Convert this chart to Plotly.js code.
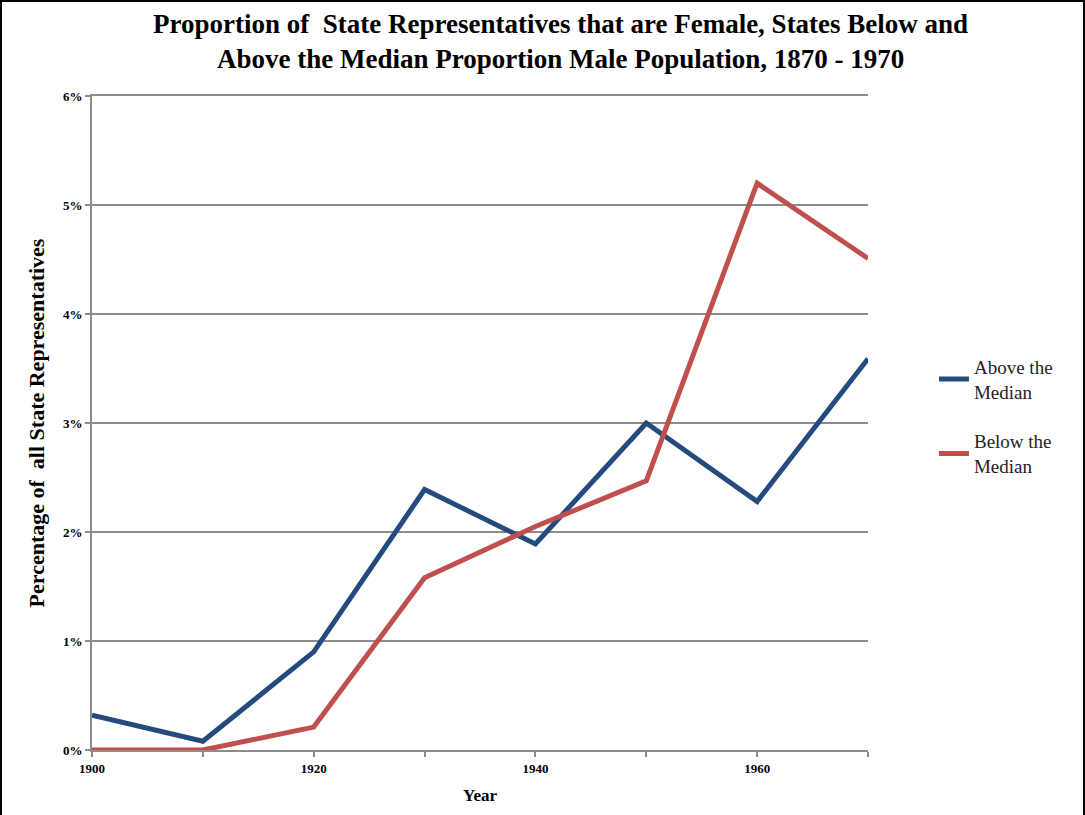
<!DOCTYPE html>
<html>
<head>
<meta charset="utf-8">
<script src="https://cdn.plot.ly/plotly-3.0.1.min.js"></script>
<style>
html,body{margin:0;padding:0;background:#fff;}
#wrap{position:relative;width:1085px;height:815px;}
#chart{width:1085px;height:815px;}
#frame{position:absolute;left:0;top:0;width:1085px;height:815px;box-sizing:border-box;border:2px solid #000;border-bottom:none;pointer-events:none;}
</style>
</head>
<body>
<div id="wrap"><div id="chart"></div><div id="frame"></div></div>
<script>
const years = [1900, 1910, 1920, 1930, 1940, 1950, 1960, 1970];
const aboveMedian = [0.32, 0.08, 0.90, 2.39, 1.89, 3.00, 2.28, 3.59];
const belowMedian = [0.00, 0.00, 0.21, 1.58, 2.05, 2.47, 5.20, 4.51];
const xTickVals = [1900, 1910, 1920, 1930, 1940, 1950, 1960, 1970];
const xTickText = ['1900', '', '1920', '', '1940', '', '1960', ''];
const yTickVals = [0, 1, 2, 3, 4, 5, 6];
const yTickText = ['0%', '1%', '2%', '3%', '4%', '5%', '6%'];
const titleText = 'Proportion of  State Representatives that are Female, States Below and<br>Above the Median Proportion Male Population, 1870 - 1970';

const serif = '"Liberation Serif", "DejaVu Serif", serif';

const traces = [
  {x: years, y: aboveMedian, name: 'Above the<br>Median', mode: 'lines', legendgroup: 'a',
   line: {color: '#254B7E', width: 5}},
  {x: years, y: belowMedian, name: 'Below the<br>Median', mode: 'lines', legendgroup: 'b',
   line: {color: '#C0504D', width: 5}}
];

const layout = {
  width: 1085, height: 815,
  margin: {l: 92, r: 217, t: 96, b: 65},
  paper_bgcolor: '#fff', plot_bgcolor: '#fff',
  font: {family: serif, color: '#000'},
  annotations: [{
    text: '<b>' + titleText + '</b>',
    xref: 'paper', x: 0.604, xanchor: 'center',
    yref: 'paper', y: 1.0835, yanchor: 'middle',
    showarrow: false, align: 'center',
    font: {family: serif, size: 27, color: '#000'}
  }],
  xaxis: {
    range: [1900, 1970],
    tickvals: xTickVals, ticktext: xTickText,
    ticks: 'outside', ticklen: 5, tickwidth: 2, tickcolor: '#8c8c8c',
    showline: true, linecolor: '#8c8c8c', linewidth: 2, mirror: true,
    showgrid: false, zeroline: false,
    tickfont: {family: serif, size: 13, color: '#000', weight: 'bold'},
    title: {text: '<b>Year</b>', font: {family: serif, size: 17, color: '#000'}, standoff: 15}
  },
  yaxis: {
    range: [0, 6],
    tickvals: yTickVals, ticktext: yTickText,
    ticks: 'outside', ticklen: 5, tickwidth: 2, tickcolor: '#8c8c8c',
    showline: true, linecolor: '#8c8c8c', linewidth: 2,
    showgrid: true, gridcolor: '#8c8c8c', gridwidth: 2,
    zeroline: false,
    tickfont: {family: serif, size: 13, color: '#000', weight: 'bold'},
    title: {text: '<b>Percentage of  all State Representatives</b>', font: {family: serif, size: 22, color: '#000'}, standoff: 12}
  },
  legend: {
    x: 1.085, xanchor: 'left', y: 0.615, yanchor: 'top',
    font: {family: serif, size: 19, color: '#222'},
    tracegroupgap: 22,
    itemwidth: 30
  },
  showlegend: true
};

Plotly.newPlot('chart', traces, layout, {displayModeBar: false, staticPlot: true});
</script>
</body>
</html>
